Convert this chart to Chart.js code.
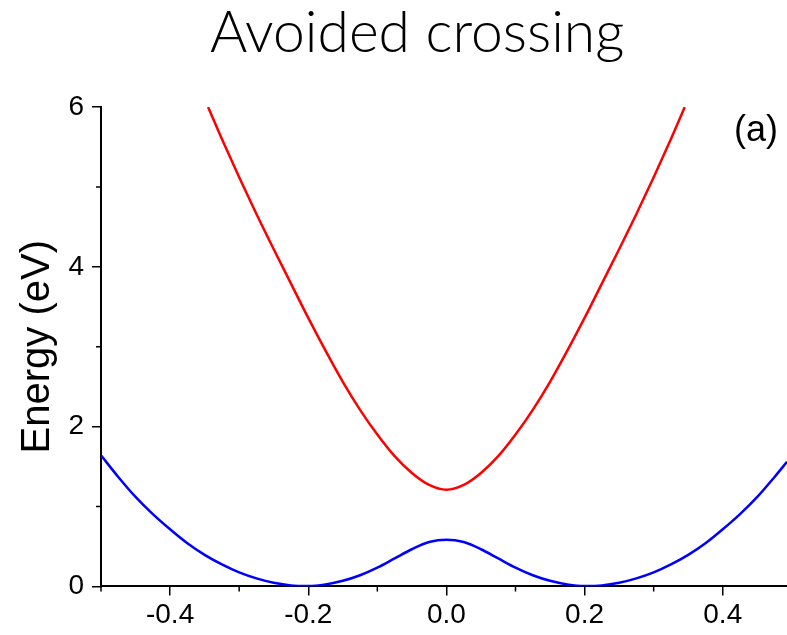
<!DOCTYPE html>
<html>
<head>
    <title>Avoided crossing</title>
    <script src="https://cdn.jsdelivr.net/npm/chart.js"></script>
    <style>
        html, body { margin: 0; padding: 0; background: #fff; }
        #wrap { width: 787px; height: 635px; }
    </style>
</head>
<body>
    <div id="wrap"><canvas id="crossingChart"></canvas></div>

    <script>
        const titleText = 'Avoided crossing';

        // upper branch (red)
        const redX = [-0.345, -0.325, -0.3, -0.275, -0.25, -0.225, -0.2, -0.175, -0.15, -0.125, -0.1, -0.075, -0.05, -0.025, 0,
                      0.025, 0.05, 0.075, 0.1, 0.125, 0.15, 0.175, 0.2, 0.225, 0.25, 0.275, 0.3, 0.325, 0.345];
        const redE = [6.0, 5.6, 5.12, 4.66, 4.22, 3.79, 3.36, 2.95, 2.56, 2.21, 1.9, 1.63, 1.42, 1.27, 1.21,
                      1.27, 1.42, 1.63, 1.9, 2.21, 2.56, 2.95, 3.36, 3.79, 4.22, 4.66, 5.12, 5.6, 6.0];

        // lower branch (blue)
        const blueX = [-0.5, -0.475, -0.45, -0.425, -0.4, -0.375, -0.35, -0.325, -0.3, -0.275, -0.25, -0.225, -0.2, -0.175, -0.15, -0.125, -0.1, -0.075, -0.05, -0.025, 0,
                       0.025, 0.05, 0.075, 0.1, 0.125, 0.15, 0.175, 0.2, 0.225, 0.25, 0.275, 0.3, 0.325, 0.35, 0.375, 0.4, 0.425, 0.45, 0.475, 0.493];
        const blueE = [1.64, 1.37, 1.12, 0.905, 0.715, 0.54, 0.395, 0.275, 0.175, 0.1, 0.045, 0.012, 0.005, 0.025, 0.07, 0.14, 0.235, 0.35, 0.465, 0.555, 0.585,
                       0.555, 0.465, 0.35, 0.235, 0.14, 0.07, 0.025, 0.005, 0.012, 0.045, 0.1, 0.175, 0.275, 0.395, 0.54, 0.715, 0.905, 1.12, 1.37, 1.56];

        // axis ticks
        const xMajor = [-0.4, -0.2, 0, 0.2, 0.4];
        const xMinor = [-0.5, -0.3, -0.1, 0.1, 0.3];
        const yMajor = [0, 2, 4, 6];
        const yMinor = [1, 3, 5];

        const toPoints = (xs, ys) => xs.map((x, i) => ({ x: x, y: ys[i] }));

        // title, short minor tick marks and the "(a)" panel label
        const extras = {
            id: 'extras',
            afterDraw(chart) {
                const ctx = chart.ctx;
                const xs = chart.scales.x, ys = chart.scales.y;
                const area = chart.chartArea;
                ctx.save();
                ctx.strokeStyle = '#000';
                ctx.lineWidth = 1.5;
                ctx.beginPath();
                xMinor.forEach(v => {
                    const px = xs.getPixelForValue(v);
                    ctx.moveTo(px, area.bottom);
                    ctx.lineTo(px, area.bottom + 5);
                });
                yMinor.forEach(v => {
                    const py = ys.getPixelForValue(v);
                    ctx.moveTo(area.left, py);
                    ctx.lineTo(area.left - 5, py);
                });
                ctx.stroke();

                ctx.fillStyle = '#000';
                ctx.font = '36px "Liberation Sans", Arial, sans-serif';
                ctx.textAlign = 'right';
                ctx.textBaseline = 'middle';
                ctx.fillText('(a)', area.right - 9, area.top + 24);

                // title, a bit right of the canvas centre like the original
                ctx.font = '300 57px Lato, sans-serif';
                ctx.textAlign = 'center';
                ctx.textBaseline = 'alphabetic';
                ctx.fillText(titleText, chart.width * 0.53, 52);
                ctx.restore();
            }
        };

        const ctx = document.getElementById('crossingChart').getContext('2d');
        const chart = new Chart(ctx, {
            type: 'line',
            data: {
                datasets: [{
                    label: 'upper',
                    data: toPoints(redX, redE),
                    borderColor: 'rgb(255, 0, 0)',
                    borderWidth: 2.5,
                    pointRadius: 0,
                    cubicInterpolationMode: 'monotone',
                    fill: false
                }, {
                    label: 'lower',
                    data: toPoints(blueX, blueE),
                    borderColor: 'rgb(0, 0, 255)',
                    borderWidth: 2.5,
                    pointRadius: 0,
                    cubicInterpolationMode: 'monotone',
                    fill: false
                }]
            },
            options: {
                responsive: true,
                maintainAspectRatio: false,
                animation: false,
                layout: { padding: { top: 107, left: 0, right: 0, bottom: 0 } },
                plugins: {
                    legend: { display: false },
                    tooltip: { enabled: false },
                    title: { display: false }
                },
                scales: {
                    x: {
                        type: 'linear',
                        min: -0.5,
                        max: 0.493,
                        afterBuildTicks: s => { s.ticks = xMajor.map(v => ({ value: v })); },
                        border: { color: '#000', width: 2 },
                        grid: { drawOnChartArea: false, color: '#000', tickLength: 9, lineWidth: 1.5 },
                        ticks: {
                            color: '#000',
                            padding: 3,
                            maxRotation: 0,
                            font: { family: '"Liberation Sans", Arial, sans-serif', size: 28 },
                            callback: v => v.toFixed(1)
                        }
                    },
                    y: {
                        min: 0,
                        max: 6,
                        afterBuildTicks: s => { s.ticks = yMajor.map(v => ({ value: v })); },
                        afterFit: s => { s.width = 101; },
                        border: { color: '#000', width: 2 },
                        grid: { drawOnChartArea: false, color: '#000', tickLength: 9, lineWidth: 1.5 },
                        ticks: {
                            color: '#000',
                            padding: 8,
                            font: { family: '"Liberation Sans", Arial, sans-serif', size: 28 },
                            callback: v => String(v)
                        },
                        title: {
                            display: true,
                            text: 'Energy (eV)',
                            color: '#000',
                            font: { family: '"Liberation Sans", Arial, sans-serif', size: 40 },
                            padding: { top: 14, bottom: 0 }
                        }
                    }
                }
            },
            plugins: [extras]
        });
    </script>
</body>
</html>
